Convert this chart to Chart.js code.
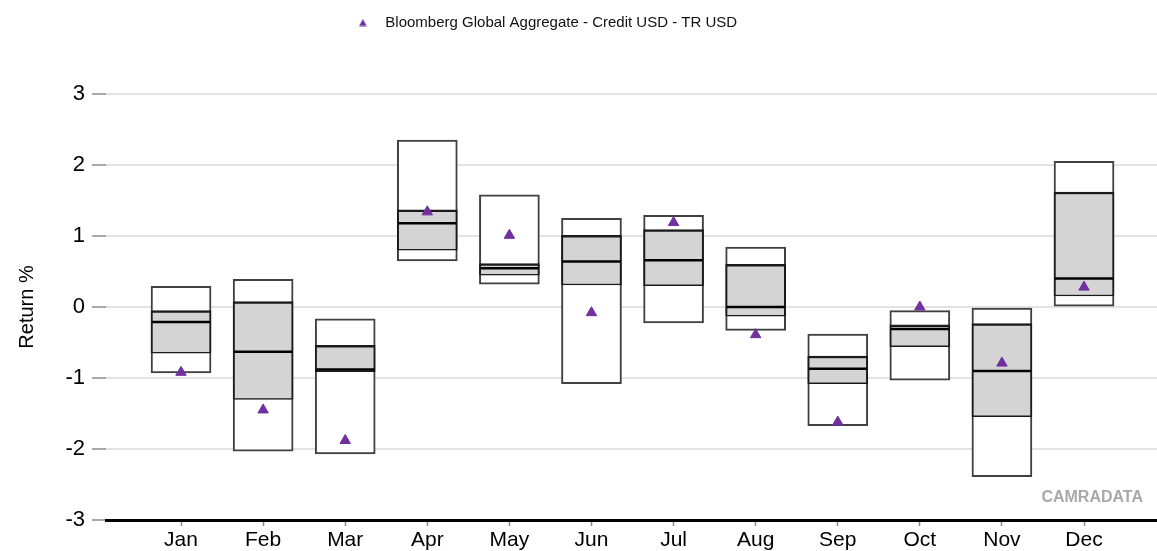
<!DOCTYPE html>
<html>
<head>
<meta charset="utf-8">
<title>Monthly return ranges</title>
<script src="https://cdn.jsdelivr.net/npm/chart.js@4.4.1/dist/chart.umd.min.js"></script>
<style>
  html, body { margin: 0; padding: 0; background: #fff; }
  #wrap { width: 1157px; height: 551px; }
</style>
</head>
<body>
<div id="wrap"><canvas id="rangeChart"></canvas></div>
<script>
const months = ['Jan', 'Feb', 'Mar', 'Apr', 'May', 'Jun', 'Jul', 'Aug', 'Sep', 'Oct', 'Nov', 'Dec'];
const maxReturns    = [0.29, 0.39, -0.165, 2.35, 1.58, 1.25, 1.29, 0.845, -0.38, -0.05, 0.0, 2.05];
const upperQuartile = [-0.05, 0.075, -0.54, 1.37, 0.61, 1.01, 1.09, 0.60, -0.69, -0.25, -0.235, 1.62];
const medianReturns = [-0.21, -0.63, -0.88, 1.18, 0.545, 0.64, 0.66, 0.0, -0.87, -0.31, -0.90, 0.40];
const lowerQuartile = [-0.65, -1.30, -0.91, 0.80, 0.45, 0.31, 0.30, -0.13, -1.08, -0.56, -1.545, 0.155];
const minReturns    = [-0.93, -2.03, -2.07, 0.65, 0.32, -1.08, -0.225, -0.33, -1.67, -1.03, -2.39, 0.01];
const indexReturns  = [-0.92, -1.45, -1.88, 1.34, 1.01, -0.08, 1.19, -0.39, -1.62, 0.0, -0.79, 0.28];
const indexName = 'Bloomberg Global Aggregate - Credit USD - TR USD';
const yMin = -3, yMax = 3;

const purple = '#7030a0';

Chart.defaults.font.family = '"Liberation Sans", Arial, sans-serif';
Chart.defaults.color = '#000';

// point-only series (medians, index); they shouldn't pad the chart area
class PointsController extends Chart.LineController {
  getMaxOverflow() { return 0; }
}
PointsController.id = 'points';
PointsController.defaults = Chart.LineController.defaults;
Chart.register(PointsController);

function rangePoints(lo, hi) {
  return months.map((m, i) => ({ x: i, y: [lo[i], hi[i]] }));
}

function valuePoints(vals) {
  return months.map((m, i) => ({ x: i, y: vals[i] }));
}

// small triangle for the legend (keeps the wide gap before the text)
function legendTriangle() {
  const c = document.createElement('canvas');
  c.width = 8;
  c.height = 8;
  const g = c.getContext('2d');
  g.fillStyle = purple;
  g.beginPath();
  g.moveTo(4, 0.5);
  g.lineTo(7.8, 7.5);
  g.lineTo(0.2, 7.5);
  g.closePath();
  g.fill();
  return c;
}
const legendIcon = legendTriangle();

// extra room under the legend, and nudge it left like the original
const legendSpace = {
  id: 'legendSpace',
  beforeInit(chart) {
    const fit = chart.legend.fit;
    chart.legend.fit = function() {
      fit.call(this);
      this.height += 54;
    };
  },
  afterLayout(chart) {
    chart.legend.right -= 72;
  }
};

const watermark = {
  id: 'watermark',
  afterDraw(chart) {
    const { ctx, chartArea } = chart;
    ctx.save();
    ctx.font = 'bold 16px "Liberation Sans", Arial, sans-serif';
    ctx.fillStyle = '#a8a8a8';
    ctx.textAlign = 'right';
    ctx.textBaseline = 'middle';
    ctx.fillText('CAMRADATA', chartArea.right - 14, chartArea.bottom - 22);
    ctx.restore();
  }
};

new Chart(document.getElementById('rangeChart'), {
  type: 'bar',
  data: {
    datasets: [
      {
        type: 'points',
        label: indexName,
        data: valuePoints(indexReturns),
        showLine: false,
        pointStyle: 'triangle',
        pointRadius: 6,
        borderWidth: 1,
        backgroundColor: purple,
        borderColor: purple,
        order: 1
      },
      {
        type: 'points',
        data: valuePoints(medianReturns),
        showLine: false,
        pointStyle: 'line',
        pointRadius: 29,
        borderWidth: 2.5,
        borderColor: '#000',
        order: 2
      },
      {
        data: rangePoints(lowerQuartile, upperQuartile),
        backgroundColor: '#d4d4d4',
        borderColor: '#1a1a1a',
        borderWidth: { top: 2.5, right: 2, bottom: 1.5, left: 2 },
        borderSkipped: false,
        barThickness: 60,
        maxBarThickness: 60,
        grouped: false,
        order: 3
      },
      {
        data: rangePoints(minReturns, maxReturns),
        backgroundColor: '#fff',
        borderColor: '#404040',
        borderWidth: 2,
        borderSkipped: false,
        barThickness: 60,
        maxBarThickness: 60,
        grouped: false,
        order: 4
      }
    ]
  },
  options: {
    responsive: true,
    maintainAspectRatio: false,
    animation: false,
    layout: { padding: { top: 5, left: 0, right: 0, bottom: 0 } },
    scales: {
      x: {
        type: 'linear',
        offset: false,
        min: -0.914,
        max: 11.889,
        afterBuildTicks: s => { s.ticks = months.map((m, i) => ({ value: i })); },
        afterFit: s => { s.height = 31; s.paddingRight = 0; s.paddingLeft = 0; },
        ticks: {
          callback: v => months[v],
          autoSkip: false,
          maxRotation: 0,
          padding: 2,
          font: { size: 21 }
        },
        grid: { offset: false, drawOnChartArea: false, tickLength: 6, tickColor: '#888', tickWidth: 1.5 },
        border: { display: true, color: '#000', width: 3 }
      },
      y: {
        min: yMin,
        max: yMax,
        afterFit: s => { s.width = 106; },
        ticks: { stepSize: 1, padding: 7, font: { size: 22 } },
        grid: { color: '#e3e3e3', lineWidth: 2, tickColor: '#8c8c8c', tickWidth: 1.5, tickLength: 14 },
        border: { display: false },
        title: {
          display: true,
          text: 'Return %',
          font: { size: 20 },
          padding: { top: 15, bottom: 0 }
        }
      }
    },
    plugins: {
      legend: {
        position: 'top',
        labels: {
          generateLabels: chart => Chart.defaults.plugins.legend.labels.generateLabels(chart)
            .map(item => Object.assign(item, { pointStyle: legendIcon })),
          filter: item => item.text === indexName,
          usePointStyle: true,
          pointStyleWidth: 30,
          boxHeight: 8,
          padding: 10,
          color: '#111',
          font: { size: 15 }
        }
      },
      tooltip: { enabled: false }
    }
  },
  plugins: [legendSpace, watermark]
});
</script>
</body>
</html>
